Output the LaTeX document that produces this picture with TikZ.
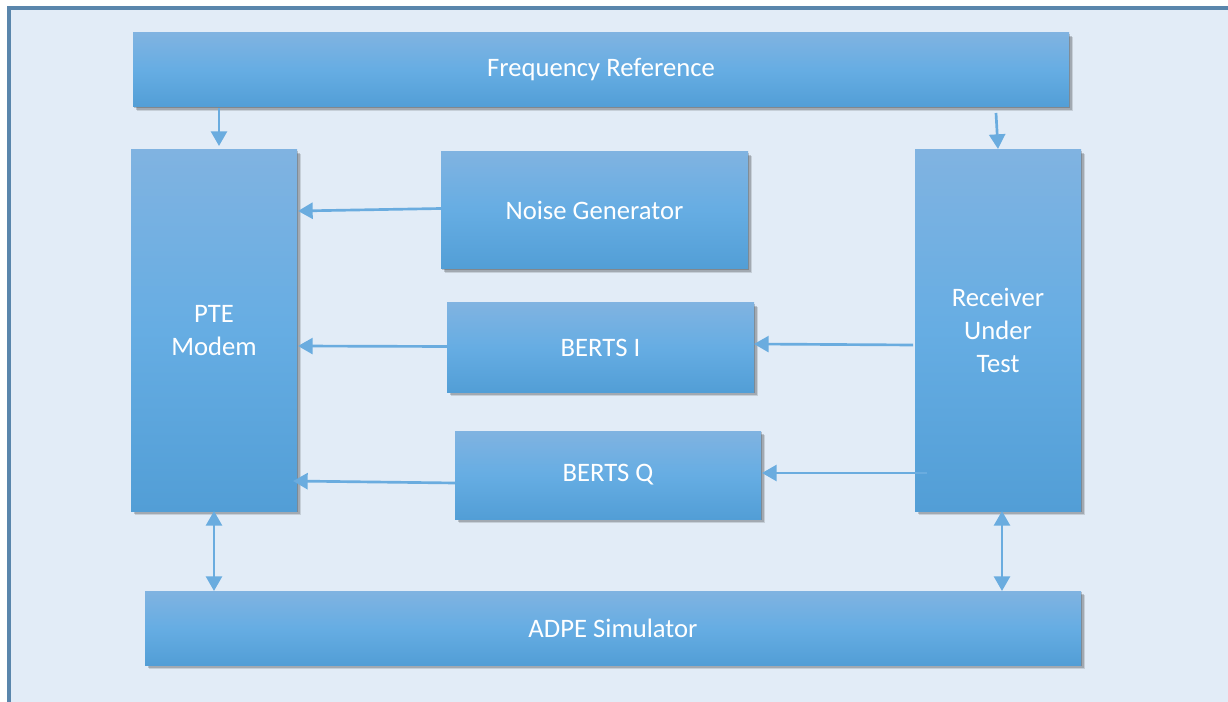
\documentclass[tikz,border=0pt]{standalone}
\usepackage{fontspec}
\setmainfont{Carlito}
\usetikzlibrary{arrows.meta,calc,shadows}
\definecolor{bg}{HTML}{E2ECF7}
\definecolor{frame}{HTML}{5A86AC}
\definecolor{btop}{HTML}{80B3E1}
\definecolor{bmid}{HTML}{66ADE3}
\definecolor{bbot}{HTML}{529ED6}
\definecolor{arrc}{HTML}{6AACDF}
\tikzset{
  blk/.style={rectangle, inner sep=0pt, outer sep=0pt, top color=btop, bottom color=bbot, middle color=bmid,
    text=white, align=center, font=\fontsize{20pt}{24.75pt}\selectfont,
    drop shadow={shadow xshift=3pt, shadow yshift=-3pt, fill=black, opacity=0.12},
    drop shadow={shadow xshift=2pt, shadow yshift=-2pt, fill=black, opacity=0.18},
    drop shadow={shadow xshift=1pt, shadow yshift=-1pt, fill=black, opacity=0.2}},
  arr/.style={draw=arrc, line width=2pt, -{Triangle[width=12pt,length=11pt]}},
  darr/.style={draw=arrc, line width=2pt, {Triangle[width=12pt,length=11pt]}-{Triangle[width=12pt,length=11pt]}}
}
\begin{document}
\begin{tikzpicture}[x=0.75pt,y=-0.75pt]
\useasboundingbox (0,0) rectangle (1228,702);
\clip (0,0) rectangle (1228,702);
\fill[white] (0,0) rectangle (1228,702);
\filldraw[fill=bg, draw=frame, line width=2.4pt] (9,8) rectangle (1250,720);
\node[blk, minimum width=702pt, minimum height=55.5pt] (freq) at (601,70) {\raisebox{-2pt}{Frequency Reference}};
\node[blk, minimum width=124.5pt, minimum height=270.75pt] (pte) at (214,330.5) {PTE\\Modem};
\node[blk, minimum width=230.25pt, minimum height=87.75pt] (noise) at (594.5,210.5) {\raisebox{-2pt}{Noise Generator}};
\node[blk, minimum width=230.25pt, minimum height=66.75pt] (bi) at (600.5,347.5) {\raisebox{-1.5pt}{BERTS I}};
\node[blk, minimum width=229.5pt, minimum height=66pt] (bq) at (608,475) {\raisebox{-2pt}{BERTS Q}};
\node[blk, minimum width=124.5pt, minimum height=270.75pt] (rut) at (998,330.5) {Receiver\\Under\\Test};
\node[blk, minimum width=702pt, minimum height=55.5pt] (adpe) at (613,628) {\raisebox{-1pt}{ADPE Simulator}};
\draw[arr] ($(freq.south)+(-382,1)$) -- ($(pte.north)+(5,-4)$);
\draw[arr] ($(freq.south)+(395,6)$) -- ($(rut.north)+(0,-1)$);
\draw[arr] ($(noise.west)+(0,-2)$) -- ($(pte.east)+(1,-119.5)$);
\draw[arr] ($(bi.west)+(0,-1)$) -- ($(pte.east)+(1,15.5)$);
\draw[arr] ($(bq.west)+(0,8)$) -- ($(pte.east)+(-4,150.5)$);
\draw[arr] ($(rut.west)+(-2,14.5)$) -- (bi.east |- {$(rut.west)+(0,13.5)$});
\draw[arr] ($(rut.west)+(12,142.5)$) -- ($(bq.east)+(1,-2)$);
\draw[darr] (pte.south) -- (pte.south |- adpe.north);
\draw[darr] ($(rut.south)+(4,0)$) -- ($(rut.south |- adpe.north)+(4,0)$);
\end{tikzpicture}
\end{document}
